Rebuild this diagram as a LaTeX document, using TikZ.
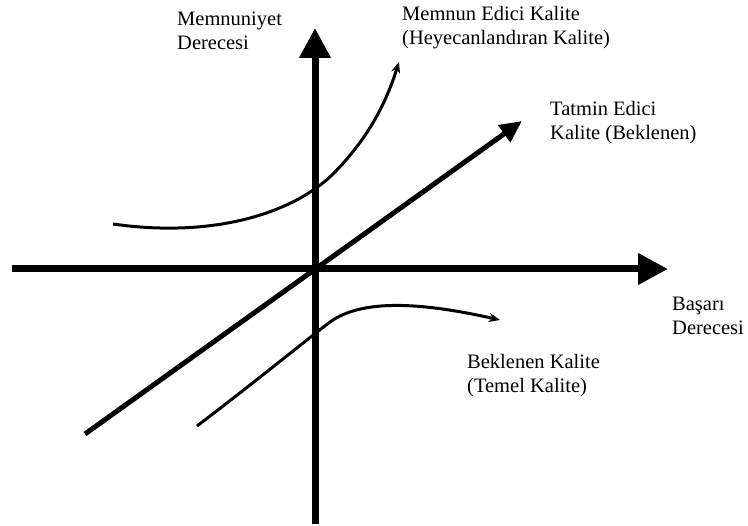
\documentclass[tikz,border=0pt]{standalone}
\usepackage{fontspec}
\setmainfont{Liberation Serif}
\usetikzlibrary{positioning, arrows.meta}

\begin{document}
\begin{tikzpicture}[
    x=1pt, y=-1pt,
    axis/.style={line width=7pt, -{Triangle[length=30pt, width=30pt]}},
    diag/.style={line width=5pt, -{Triangle[length=22pt, width=20pt]}},
    curve/.style={line width=3pt, -{Stealth[length=11pt, width=9pt]}},
    lbl/.style={anchor=base west, inner sep=0pt, align=left,
                font=\fontsize{20.5}{24}\selectfont}
]
  \useasboundingbox (0,0) rectangle (748,526);

  % axes
  \coordinate (O) at (315,269);
  \coordinate (xs) at (12,269);
  \coordinate (xe) at (668,269);
  \coordinate (ys) at (315,524);
  \coordinate (ye) at (315,28);
  \draw[axis] (xs) -- (xe);
  \draw[axis] (ys) -- (ye);

  % satisfier line
  \coordinate (ds) at (85,434);
  \coordinate (de) at (522,121);
  \draw[diag] (ds) -- (de);

  % delighter curve
  \coordinate (us) at (113,224);
  \coordinate (um) at (332,175);
  \coordinate (ue) at (399,62);
  \draw[curve] (us) .. controls (210,238) and (290,215) .. (um)
                    .. controls (370,137) and (387,100) .. (ue);

  % basic curve
  \coordinate (ls) at (197,426);
  \coordinate (lm) at (330,322);
  \coordinate (le) at (500,320);
  \draw[curve] (ls) .. controls (260,378) and (300,345) .. (lm)
                    .. controls (362,299) and (420,302) .. (le);

  % labels (base = last line)
  \node[lbl] (ylab) at (177,50) {Memnuniyet\\Derecesi};
  \node[lbl] (xlab) at (672,335) {Başarı\\Derecesi};
  \node[lbl] (mlab) at (402,45) {Memnun Edici Kalite\\(Heyecanlandıran Kalite)};
  \node[lbl] (tlab) at (550,140) {Tatmin Edici\\Kalite (Beklenen)};
  \node[lbl] (blab) at (467,393) {Beklenen Kalite\\(Temel Kalite)};
\end{tikzpicture}
\end{document}
